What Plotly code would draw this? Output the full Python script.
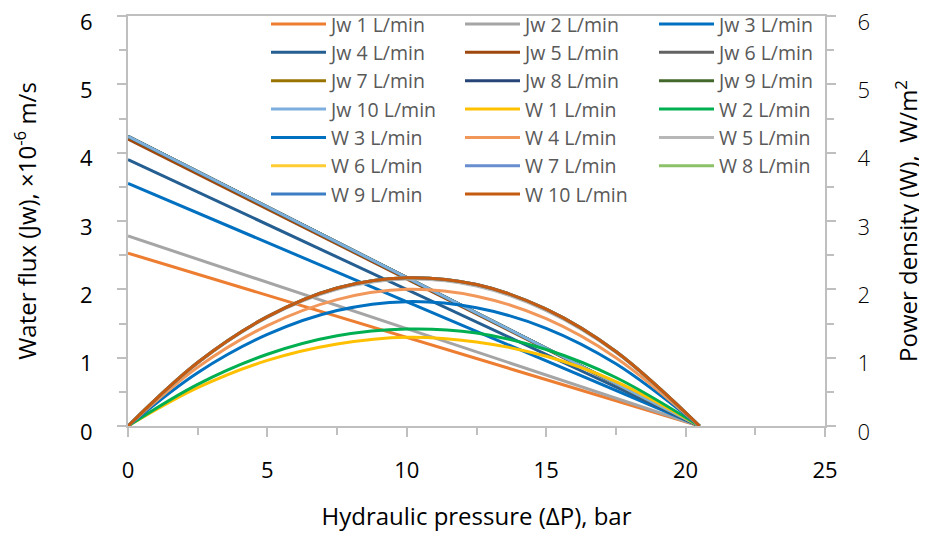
import plotly.graph_objects as go

# Hydraulic pressure (bar)
dp_line = [0, 20.5]
dp_curve = [0, 2.5, 5, 7.5, 10, 12.5, 15, 17.5, 20.5]

# Water flux (x1e-6 m/s) at 0 and 20.5 bar, flow 1..10 L/min
jw1 = [2.53, 0]
jw2 = [2.78, 0]
jw3 = [3.55, 0]
jw4 = [3.90, 0]
jw5 = [4.20, 0]
jw6 = [4.24, 0]
jw7 = [4.24, 0]
jw8 = [4.24, 0]
jw9 = [4.24, 0]
jw10 = [4.24, 0]

# Power density (W/m2)
w1 = [0, 0.56, 0.96, 1.20, 1.30, 1.23, 1.02, 0.65, 0]
w2 = [0, 0.61, 1.05, 1.32, 1.42, 1.36, 1.12, 0.71, 0]
w3 = [0, 0.78, 1.34, 1.69, 1.82, 1.73, 1.43, 0.91, 0]
w4 = [0, 0.86, 1.47, 1.85, 2.00, 1.90, 1.57, 1.00, 0]
w5 = [0, 0.92, 1.59, 2.00, 2.15, 2.05, 1.69, 1.08, 0]
w6 = [0, 0.93, 1.60, 2.02, 2.17, 2.07, 1.71, 1.09, 0]
w7 = [0, 0.93, 1.60, 2.02, 2.17, 2.07, 1.71, 1.09, 0]
w8 = [0, 0.93, 1.60, 2.02, 2.17, 2.07, 1.71, 1.09, 0]
w9 = [0, 0.93, 1.60, 2.02, 2.17, 2.07, 1.71, 1.09, 0]
w10 = [0, 0.93, 1.60, 2.02, 2.17, 2.07, 1.71, 1.09, 0]

jw_names = [f"Jw {i} L/min" for i in range(1, 11)]
w_names = [f"W {i} L/min" for i in range(1, 11)]
jw_series = [jw1, jw2, jw3, jw4, jw5, jw6, jw7, jw8, jw9, jw10]
w_series = [w1, w2, w3, w4, w5, w6, w7, w8, w9, w10]

jw_colors = ["#ED7D31", "#A5A5A5", "#0070C0", "#255E91", "#9E480E",
             "#636363", "#997300", "#264478", "#43682B", "#7CAFDD"]
w_colors = ["#FFC000", "#00B050", "#0070C0", "#F1975A", "#B7B7B7",
            "#FFCD33", "#698ED0", "#8CC168", "#3C7DC4", "#C55A11"]

fig = go.Figure()
for name, ys, c in zip(jw_names, jw_series, jw_colors):
    fig.add_trace(go.Scatter(x=dp_line, y=ys, name=name, mode="lines",
                             line=dict(color=c, width=3), yaxis="y"))
for name, ys, c in zip(w_names, w_series, w_colors):
    fig.add_trace(go.Scatter(x=dp_curve, y=ys, name=name, mode="lines",
                             line=dict(color=c, width=3, shape="spline"), yaxis="y2"))

axis_col = "#BFBFBF"
tick_font = dict(family="Open Sans", size=22, color="#000000")
tick_font_r = dict(family="Open Sans", size=22, color="#000000", weight=300)
title_font = dict(family="Open Sans", size=24, color="#000000")

# page body has an 8px margin, so the figure is sized to fill the rest of the 927x536 window
fig.update_layout(
    width=919, height=528,
    margin=dict(l=120, r=102, t=8, b=110, autoexpand=False),
    plot_bgcolor="white", paper_bgcolor="white",
    showlegend=True,
    legend=dict(orientation="h", x=0.198, y=1.0273, xanchor="left", yanchor="top",
                entrywidth=124, entrywidthmode="pixels", bgcolor="rgba(0,0,0,0)",
                font=dict(family="Open Sans", size=19.5, color="#595959"),
                itemwidth=55, traceorder="normal"),
    xaxis=dict(range=[0, 25], tickvals=[0, 5, 10, 15, 20, 25], showgrid=False, zeroline=False,
               showline=True, linecolor=axis_col, linewidth=2, mirror=True,
               ticks="outside", ticklen=9, tickcolor=axis_col, tickwidth=2,
               minor=dict(dtick=2.5, ticks="outside", ticklen=7, tickcolor=axis_col, tickwidth=2),
               tickfont=tick_font, ticklabelstandoff=15, ticklabeloverflow="allow",
               title=dict(text="Hydraulic pressure (ΔP), bar", font=title_font, standoff=25)),
    yaxis=dict(range=[0, 6], dtick=1, showgrid=False, zeroline=False,
               showline=True, linecolor=axis_col, linewidth=2,
               ticks="outside", ticklen=9, tickcolor=axis_col, tickwidth=2,
               minor=dict(dtick=0.5, ticks="outside", ticklen=7, tickcolor=axis_col, tickwidth=2),
               tickfont=tick_font, ticklabelstandoff=20, ticklabelshift=6,
               ticklabeloverflow="allow",
               title=dict(text="Water flux (Jw), ×10<sup>-6</sup> m/s", font=title_font, standoff=40)),
    yaxis2=dict(range=[0, 6], dtick=1, overlaying="y", side="right", showgrid=False, zeroline=False,
                showline=True, linecolor=axis_col, linewidth=2,
                ticks="outside", ticklen=9, tickcolor=axis_col, tickwidth=2,
                minor=dict(dtick=0.5, ticks="outside", ticklen=7, tickcolor=axis_col, tickwidth=2),
                tickfont=tick_font_r, ticklabelstandoff=17, ticklabelshift=6,
                ticklabeloverflow="allow",
                title=dict(text="Power density (W),  W/m<sup>2</sup>", font=title_font, standoff=31)),
)

fig.write_html("out.html")
